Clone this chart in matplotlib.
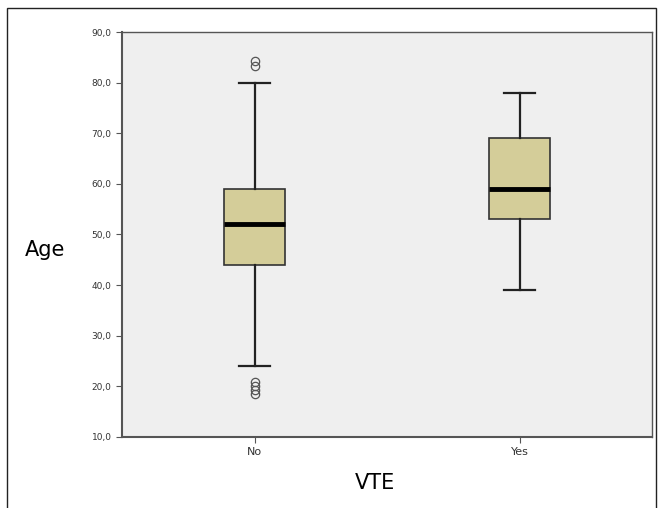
import matplotlib.pyplot as plt
from matplotlib.patches import Rectangle

# box summary values
groups = ['No', 'Yes']
whislo = [24, 39]
q1 = [44, 53]
med = [52, 59]
q3 = [59, 69]
whishi = [80, 78]
fliers = [[83.3, 84.3, 18.4, 19.2, 20.0, 20.8], []]

yticks = [10, 20, 30, 40, 50, 60, 70, 80, 90]

stats = []
for i in range(len(groups)):
    stats.append({'label': groups[i], 'whislo': whislo[i], 'q1': q1[i], 'med': med[i],
                  'q3': q3[i], 'whishi': whishi[i], 'fliers': fliers[i]})

fig = plt.figure(figsize=(6.6, 5.08), dpi=100)
ax = fig.add_axes([0.185, 0.140, 0.803, 0.797])
ax.set_facecolor('#efefef')

ax.bxp(stats, positions=[1, 2], widths=0.23, patch_artist=True,
       boxprops=dict(facecolor='#d4cd99', edgecolor='#333333', linewidth=1.2),
       medianprops=dict(color='black', linewidth=3.5),
       whiskerprops=dict(color='#222222', linewidth=1.6),
       capprops=dict(color='#222222', linewidth=1.6),
       capwidths=0.12,
       flierprops=dict(marker='o', markersize=6, markerfacecolor='none',
                       markeredgecolor='#555555', markeredgewidth=0.9))

ax.set_xlim(0.5, 2.5)
ax.set_ylim(10, 90)
ax.set_yticks(yticks)
ax.set_yticklabels([('%.1f' % v).replace('.', ',') for v in yticks], fontsize=6.5, color='#333333')
ax.set_xticks([1, 2])
ax.set_xticklabels(groups, fontsize=8, color='#333333')
ax.tick_params(axis='y', length=4, color='#555555')
ax.tick_params(axis='x', length=4, color='#555555')
for s in ax.spines.values():
    s.set_color('#555555')
    s.set_linewidth(1.0)
ax.spines['bottom'].set_linewidth(1.5)
ax.spines['left'].set_linewidth(1.5)

fig.text(0.068, 0.508, 'Age', fontsize=15, ha='center', va='center')
fig.text(0.568, 0.049, 'VTE', fontsize=15, ha='center', va='center')

fig.patches.append(Rectangle((0.011, -0.01), 0.983, 0.994, transform=fig.transFigure,
                             fill=False, edgecolor='#222222', linewidth=1.0))

fig.savefig('out.png', dpi=100)
